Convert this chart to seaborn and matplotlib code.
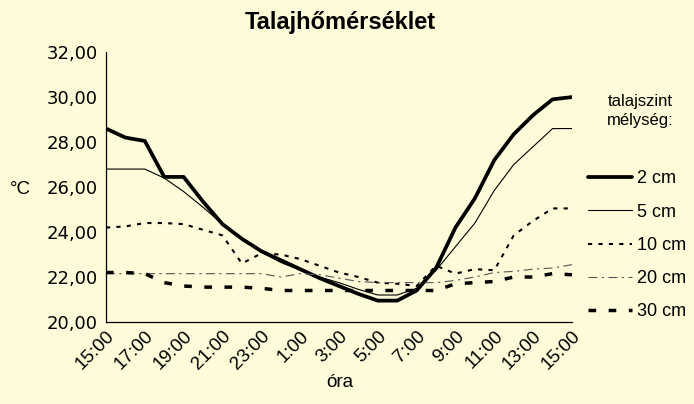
import matplotlib
matplotlib.use("Agg")
import matplotlib.pyplot as plt
import numpy as np
import pandas as pd
import seaborn as sns
from matplotlib.ticker import FuncFormatter

# hourly readings, 15:00 -> 15:00 next day
hours = ["15:00", "16:00", "17:00", "18:00", "19:00", "20:00", "21:00", "22:00",
         "23:00", "0:00", "1:00", "2:00", "3:00", "4:00", "5:00", "6:00", "7:00",
         "8:00", "9:00", "10:00", "11:00", "12:00", "13:00", "14:00", "15:00"]

t_2cm = [28.6, 28.2, 28.05, 26.45, 26.45, 25.35, 24.35, 23.7, 23.15, 22.75, 22.35, 21.95,
         21.6, 21.25, 20.95, 20.95, 21.4, 22.4, 24.2, 25.5, 27.2, 28.35, 29.2, 29.9, 30.0]
t_5cm = [26.8, 26.8, 26.8, 26.4, 25.8, 25.1, 24.35, 23.7, 23.1, 22.65, 22.3, 22.0,
         21.75, 21.45, 21.2, 21.2, 21.5, 22.3, 23.35, 24.4, 25.85, 27.0, 27.8, 28.6, 28.6]
t_10cm = [24.2, 24.25, 24.4, 24.4, 24.35, 24.1, 23.85, 22.6, 23.05, 23.0, 22.8, 22.5,
          22.2, 22.0, 21.75, 21.7, 21.6, 22.5, 22.15, 22.35, 22.3, 23.85, 24.5, 25.05, 25.05]
t_20cm = [22.15, 22.15, 22.15, 22.15, 22.15, 22.15, 22.15, 22.15, 22.15, 22.0, 22.15, 22.1,
          21.95, 21.8, 21.75, 21.75, 21.75, 21.75, 21.85, 22.0, 22.2, 22.25, 22.35, 22.4, 22.55]
t_30cm = [22.2, 22.2, 22.15, 21.75, 21.6, 21.55, 21.55, 21.55, 21.5, 21.4, 21.4, 21.4,
          21.4, 21.4, 21.4, 21.4, 21.4, 21.4, 21.7, 21.75, 21.8, 22.0, 22.0, 22.15, 22.1]

depths = ["2 cm", "5 cm", "10 cm", "20 cm", "30 cm"]
series = [t_2cm, t_5cm, t_10cm, t_20cm, t_30cm]

bg = "#fefbd8"
sns.set_theme(style="white")
plt.rcParams["font.family"] = ["Liberation Sans", "DejaVu Sans"]
plt.rcParams["text.color"] = "black"
plt.rcParams["xtick.color"] = "black"
plt.rcParams["ytick.color"] = "black"

df = pd.DataFrame({"idx": np.arange(len(hours))})
for name, vals in zip(depths, series):
    df[name] = vals
long = df.melt(id_vars="idx", var_name="depth", value_name="temp")

styles = {
    "2 cm": dict(color="black", lw=2.7, ls="-"),
    "5 cm": dict(color="black", lw=0.8, ls="-"),
    "10 cm": dict(color="black", lw=1.5, ls=(0, (2, 3))),
    "20 cm": dict(color="#555555", lw=0.8, ls=(0, (8, 4, 2, 4))),
    "30 cm": dict(color="black", lw=2.5, ls=(0, (2.2, 3.6))),
}

fig = plt.figure(figsize=(6.94, 4.04), dpi=100, facecolor=bg)
ax = fig.add_axes([0.1527, 0.203, 0.6715, 0.668])
ax.set_facecolor(bg)

for name in depths:
    st = styles[name]
    sns.lineplot(data=long[long["depth"] == name], x="idx", y="temp", ax=ax,
                 color=st["color"], linewidth=st["lw"], linestyle=st["ls"],
                 label=name, legend=False)

ax.set_xlim(0, len(hours) - 1)
ax.set_ylim(20, 32)
ax.set_yticks(np.arange(20, 33, 2))
ax.yaxis.set_major_formatter(FuncFormatter(lambda v, p: f"{v:.2f}".replace(".", ",")))
ax.set_xticks(np.arange(len(hours)))
ax.set_xticklabels([h if i % 2 == 0 else "" for i, h in enumerate(hours)],
                   rotation=45, ha="right", rotation_mode="anchor", fontsize=13.5)
ax.tick_params(axis="x", direction="in", length=6, width=0.8, color="#333333", pad=4)
ax.tick_params(axis="y", direction="inout", length=10, width=0.8, color="#333333",
               labelsize=13, pad=1)
for lab in ax.get_yticklabels():
    lab.set_family("DejaVu Sans")

for s in ["top", "right"]:
    ax.spines[s].set_visible(False)
for s in ["left", "bottom"]:
    ax.spines[s].set_color("black")
    ax.spines[s].set_linewidth(0.9)

ax.set_xlabel("")
ax.set_ylabel("")
fig.text(0.49, 0.945, "Talajhőmérséklet", ha="center", va="center",
         fontsize=17, fontweight="bold")
fig.text(0.49, 0.052, "óra", ha="center", va="center", fontsize=13.5)
fig.text(0.03, 0.53, "°C", ha="center", va="center", fontsize=13.5)
fig.text(0.922, 0.725, "talajszint\nmélység:", ha="center", va="center",
         fontsize=12, linespacing=1.35)

handles, labels = ax.get_legend_handles_labels()
fig.legend(handles, labels, loc="upper left", bbox_to_anchor=(0.847, 0.578),
           frameon=False, fontsize=13, handlelength=2.45, handletextpad=0.3,
           labelspacing=0.9, borderpad=0, borderaxespad=0)

fig.savefig("out.png", dpi=100, facecolor=bg)
